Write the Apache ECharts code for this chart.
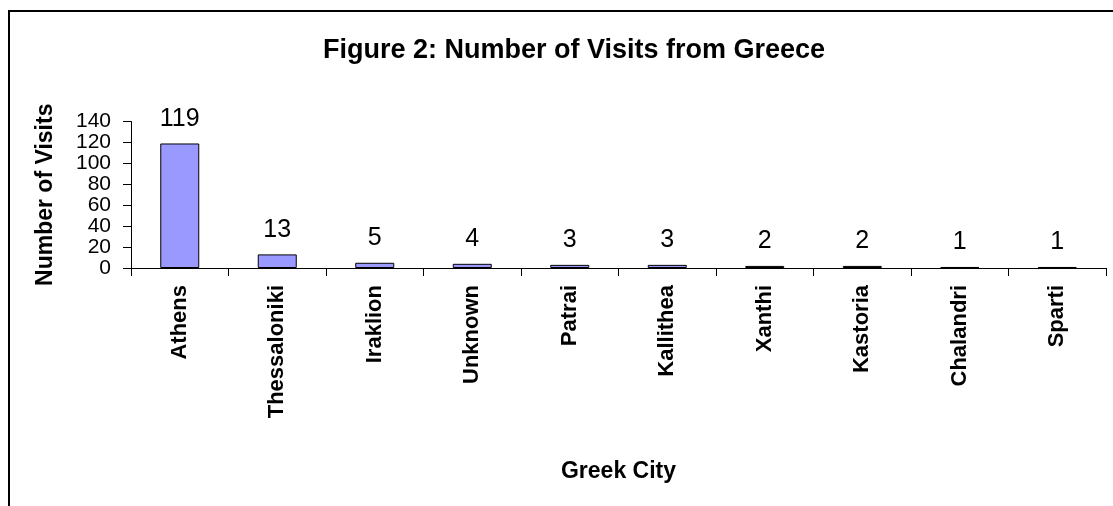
<!DOCTYPE html>
<html>
<head>
<meta charset="utf-8">
<script src="https://cdn.jsdelivr.net/npm/echarts@6/dist/echarts.min.js"></script>
<style>
html,body{margin:0;padding:0;background:#fff;}
#chart{width:1113px;height:506px;}
</style>
</head>
<body>
<div id="chart"></div>
<script>
const titleText = "Figure 2: Number of Visits from Greece";
const cities = ["Athens","Thessaloniki","Iraklion","Unknown","Patrai","Kallithea","Xanthi","Kastoria","Chalandri","Sparti"];
const visits = [119,13,5,4,3,3,2,2,1,1];
const yTicks = {min:0,max:140,interval:20};
const xName = "Greek City";
const yName = "Number of Visits";

const font = "'Liberation Sans', Arial, sans-serif";
const chart = echarts.init(document.getElementById('chart'), null, {renderer:'canvas'});
chart.setOption({
  animation:false,
  backgroundColor:'#fff',
  title:{
    text:titleText,
    left:569, top:32, textAlign:'center',
    textStyle:{fontFamily:font,fontWeight:'bold',fontSize:27,color:'#000'}
  },
  graphic:[{
    type:'rect', shape:{x:9,y:11,width:1130,height:520},
    style:{fill:'none',stroke:'#000',lineWidth:2}, z:100
  }],
  grid:{left:131,right:7,top:121.5,bottom:238,containLabel:false},
  xAxis:{
    type:'category', data:cities,
    name:xName, nameLocation:'middle', nameGap:192,
    nameTextStyle:{fontFamily:font,fontWeight:'bold',fontSize:23,color:'#000'},
    axisLine:{lineStyle:{color:'#000',width:1}},
    axisTick:{show:true,length:8,lineStyle:{color:'#000'}},
    axisLabel:{rotate:90,margin:17,interval:0,fontFamily:font,fontWeight:'bold',fontSize:22,color:'#000'},
    splitLine:{show:false}
  },
  yAxis:{
    type:'value', min:yTicks.min, max:yTicks.max, interval:yTicks.interval,
    name:yName, nameLocation:'middle', nameGap:74, nameRotate:90,
    nameTextStyle:{fontFamily:font,fontWeight:'bold',fontSize:23,color:'#000'},
    axisLine:{show:true,lineStyle:{color:'#000',width:1}},
    axisTick:{show:true,length:8,lineStyle:{color:'#000'}},
    axisLabel:{margin:20,showMinLabel:true,showMaxLabel:true,hideOverlap:false,fontFamily:font,fontSize:21,lineHeight:21,color:'#000'},
    splitLine:{show:false}
  },
  series:[{
    type:'bar', data:visits, barWidth:'40%',
    itemStyle:{color:'#9999FF',borderColor:'#000',borderWidth:1},
    label:{show:true,position:'top',distance:12,fontFamily:font,fontSize:25,color:'#000'}
  }]
});
</script>
</body>
</html>
